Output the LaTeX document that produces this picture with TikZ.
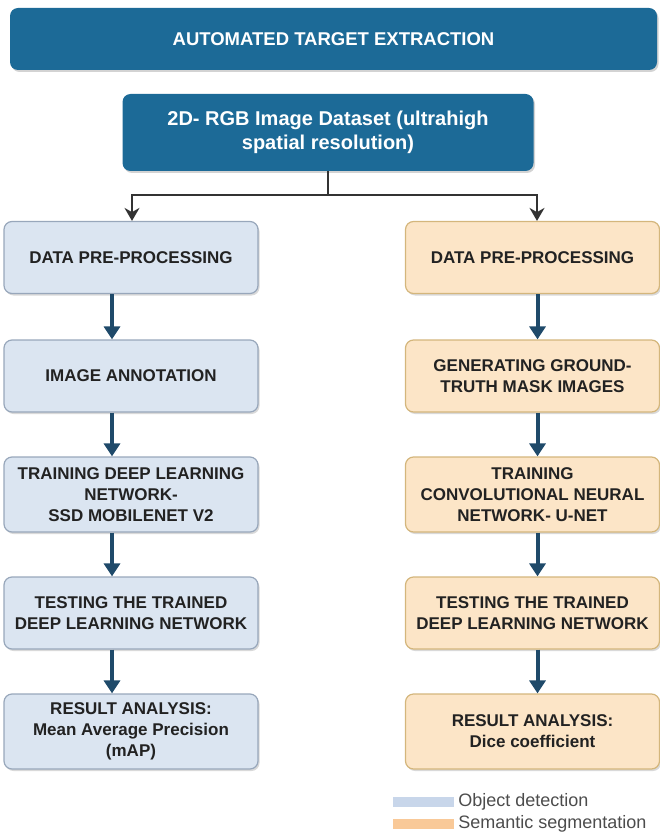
\documentclass[tikz,border=0pt]{standalone}
\usepackage{fontspec}
\setmainfont{Liberation Sans}
\usepackage{tikz}
\usetikzlibrary{positioning,arrows.meta,shadows}
\definecolor{bannerblue}{RGB}{28,106,151}
\definecolor{odfill}{RGB}{219,229,241}
\definecolor{oddraw}{RGB}{152,167,187}
\definecolor{ssfill}{RGB}{252,229,199}
\definecolor{ssdraw}{RGB}{212,182,124}
\definecolor{flowblue}{RGB}{31,74,106}
\definecolor{boxtext}{RGB}{34,34,34}
\definecolor{keyblue}{RGB}{200,214,234}
\definecolor{keyorange}{RGB}{249,201,152}
\tikzstyle{banner} = [rectangle, rounded corners=8pt, fill=bannerblue, text=white, align=center, font=\fontsize{18.5}{22}\selectfont\bfseries, drop shadow={shadow xshift=1.5pt, shadow yshift=-2pt, opacity=0.35}]
\tikzstyle{stage} = [rectangle, rounded corners=8pt, minimum width=254pt, minimum height=72pt, line width=1.2pt, align=center, text=boxtext, font=\fontsize{17}{21}\selectfont\bfseries, drop shadow={shadow xshift=1.5pt, shadow yshift=-2pt, opacity=0.3}]
\tikzstyle{odbox} = [stage, fill=odfill, draw=oddraw]
\tikzstyle{ssbox} = [stage, fill=ssfill, draw=ssdraw]
\tikzstyle{flow} = [line width=4pt, draw=flowblue, -{Triangle[width=16pt,length=13pt]}]
\tikzstyle{split} = [line width=2pt, draw=black!80]
\tikzstyle{swatch} = [rectangle, minimum width=61pt, minimum height=10pt, inner sep=0pt]
\tikzstyle{keytext} = [font=\fontsize{18}{20}\selectfont, text=black!70, inner sep=0pt]

\begin{document}
\begin{tikzpicture}[x=1pt, y=-1pt, node distance=118.5pt]
\useasboundingbox (0,0) rectangle (659,834);

\node (title) [banner, minimum width=647pt, minimum height=62pt] at (333.5,39) {AUTOMATED TARGET EXTRACTION};
\node (data) [banner, minimum width=411pt, minimum height=77pt, font=\fontsize{20}{24}\selectfont\bfseries] at (328,132.5) {2D- RGB Image Dataset (ultrahigh\\spatial resolution)};

% object detection branch
\node (od1) [odbox] at (131,257.5) {DATA PRE-PROCESSING};
\node (od2) [odbox, below of=od1] {IMAGE ANNOTATION};
\node (od3) [odbox, below of=od2, minimum height=75pt] {TRAINING DEEP LEARNING\\NETWORK-\\SSD MOBILENET V2};
\node (od4) [odbox, below of=od3] {TESTING THE TRAINED\\DEEP LEARNING NETWORK};
\node (od5) [odbox, below of=od4, minimum height=75pt] {RESULT ANALYSIS:\\Mean Average Precision\\(mAP)};

% semantic segmentation branch
\node (ss1) [ssbox] at (532.5,257.5) {DATA PRE-PROCESSING};
\node (ss2) [ssbox, below of=ss1] {GENERATING GROUND-\\TRUTH MASK IMAGES};
\node (ss3) [ssbox, below of=ss2, minimum height=75pt] {TRAINING\\CONVOLUTIONAL NEURAL\\NETWORK- U-NET};
\node (ss4) [ssbox, below of=ss3] {TESTING THE TRAINED\\DEEP LEARNING NETWORK};
\node (ss5) [ssbox, below of=ss4, minimum height=75pt] {RESULT ANALYSIS:\\Dice coefficient};

% fork from the dataset
\coordinate (fork) at (328,195);
\draw [split] (data.south) -- (fork);
\draw [split, -{Stealth[width=15pt,length=13pt]}] (fork) -| ([xshift=1pt]od1.north);
\draw [split, -{Stealth[width=15pt,length=13pt]}] (fork) -| ([xshift=4.5pt]ss1.north);

\foreach \a/\b in {od1/od2,od2/od3,od3/od4,od4/od5}
  \draw [flow] ([xshift=-19pt]\a.south) -- ([xshift=-19pt]\b.north);
\foreach \a/\b in {ss1/ss2,ss2/ss3,ss3/ss4,ss4/ss5}
  \draw [flow] ([xshift=5pt]\a.south) -- ([xshift=5pt]\b.north);

% legend
\node (keyod) [swatch, fill=keyblue] at (423.5,802) {};
\node (keyodtxt) [keytext, right=4pt of keyod] {Object detection};
\node (keyss) [swatch, fill=keyorange] at (423.5,823.5) {};
\node (keysstxt) [keytext, right=4pt of keyss] {Semantic segmentation};

\end{tikzpicture}
\end{document}
